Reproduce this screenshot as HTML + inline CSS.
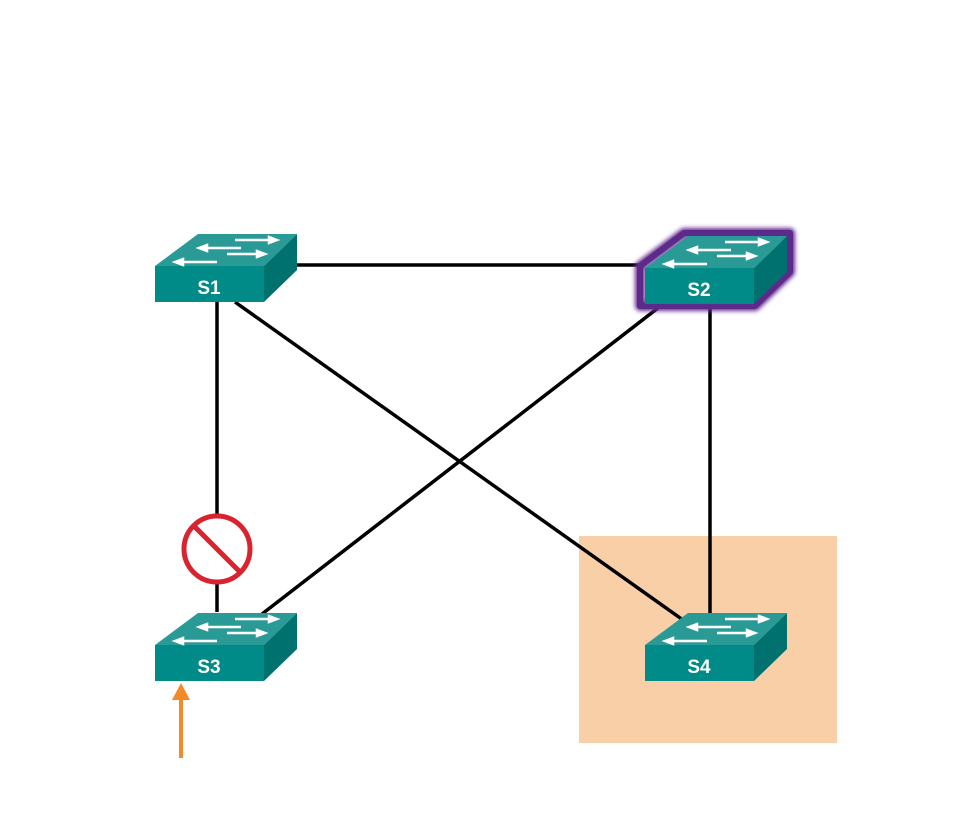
<!DOCTYPE html>
<html><head><style>body{margin:0;background:#fff}</style></head><body>
<svg width="979" height="833" xmlns="http://www.w3.org/2000/svg">
<defs>
<filter id="g" x="-20%" y="-20%" width="140%" height="140%"><feGaussianBlur stdDeviation="2"/></filter>
<g id="sw">
<polygon points="0,32 43,0 142,0 109,32" fill="#2a9a97"/>
<polygon points="0,32 109,32 109,68 0,68" fill="#008b88"/>
<polygon points="109,32 142,0 142,36 109,68" fill="#00716f"/>
<g stroke="#fff" stroke-width="2.5" fill="#fff">
<line x1="80" y1="6" x2="118" y2="6"/><polygon points="122,6 114,3 114,9"/>
<line x1="48" y1="14" x2="86" y2="14"/><polygon points="44,14 52,11 52,17"/>
<line x1="72" y1="20" x2="106" y2="20"/><polygon points="110,20 102,17 102,23"/>
<line x1="24" y1="28" x2="62" y2="28"/><polygon points="20,28 28,25 28,31"/>
</g>
</g>
</defs>
<rect x="579" y="536" width="258" height="207" fill="#f9cfa8"/>
<g stroke="#000" stroke-width="3.5">
<line x1="297" y1="265" x2="642" y2="265"/>
<line x1="217" y1="302" x2="217" y2="612"/>
<line x1="235" y1="302" x2="683" y2="620"/>
<line x1="658" y1="308" x2="262" y2="614"/>
<line x1="710" y1="308" x2="710" y2="614"/>
</g>
<polygon points="640,266 684,233 790,233 790,272 755,306 640,306" fill="none" stroke="#6a2d91" stroke-width="10" stroke-linejoin="round" filter="url(#g)"/>
<polygon points="640,266 684,233 790,233 790,272 755,306 640,306" fill="none" stroke="#5c2a8a" stroke-width="6" stroke-linejoin="round"/>
<use href="#sw" x="155" y="234"/>
<use href="#sw" x="645" y="236"/>
<use href="#sw" x="155" y="613"/>
<use href="#sw" x="645" y="613"/>
<g font-family="Liberation Sans, sans-serif" font-weight="bold" font-size="19" fill="#fff" text-anchor="middle">
<text x="209" y="294">S1</text><text x="699" y="296">S2</text>
<text x="209" y="673">S3</text><text x="699" y="673">S4</text>
</g>
<circle cx="217" cy="549" r="33" fill="#fff" stroke="#d9232e" stroke-width="5"/>
<line x1="195" y1="527" x2="239" y2="571" stroke="#d9232e" stroke-width="5"/>
<line x1="181" y1="758" x2="181" y2="695" stroke="#f28a2a" stroke-width="4"/>
<polygon points="181,683 172,700 190,700" fill="#f28a2a"/>
</svg>
</body></html>
